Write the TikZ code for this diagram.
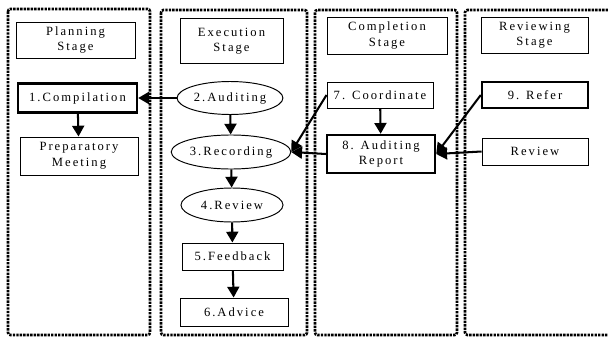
\documentclass[tikz,border=0pt]{standalone}
\usepackage{fontspec}
\setmainfont{Liberation Serif}[LetterSpace=16]
\usetikzlibrary{arrows.meta,shapes.geometric}

\begin{document}
\begin{tikzpicture}[x=0.833pt,y=-0.833pt,
  lane/.style={line width=2.2pt,dash pattern=on 2pt off 0.9pt,rounded corners=2pt},
  wh/.style 2 args={minimum width=#1*0.833pt,minimum height=#2*0.833pt},
  plainbox/.style={draw,line width=0.8pt,align=center,inner sep=1pt,font=\fontsize{10.5}{13}\selectfont},
  stagebox/.style={plainbox},
  thickbox/.style={plainbox,line width=2pt},
  oval/.style={plainbox,ellipse},
  arr/.style={line width=1.7pt,-{Triangle[length=9pt,width=10pt]}}]
\useasboundingbox (0,0) rectangle (608,338);

% the four lanes
\draw[lane] (8,9) rectangle (150,335);
\draw[lane] (161,10) rectangle (307,335);
\draw[lane] (315,10) rectangle (457,335);
\draw[lane] (615,10) -- (465,10) -- (465,335) -- (615,335);

% planning
\node[stagebox,wh={119}{36}] (plan) at (75.5,40) {Planning\\Stage};
\node[thickbox,wh={119}{29}] (comp) at (77.5,98) {1.Compilation};
\node[plainbox,wh={118}{38}] (prep) at (79,156) {Preparatory\\Meeting};

% execution
\node[stagebox,wh={103}{45}] (exec) at (231.5,41) {Execution\\Stage};
\node[oval,wh={98}{33}] (aud) at (230,98) {2.Auditing};
\node[oval,wh={104}{34}] (rec) at (231,152) {3.Recording};
\node[oval,wh={102}{34}] (rev) at (232,205) {4.Review};
\node[plainbox,wh={101}{27}] (fb) at (232.5,256.5) {5.Feedback};
\node[plainbox,wh={108}{28}] (adv) at (234,312) {6.Advice};

% completion
\node[stagebox,wh={120}{37}] (compl) at (387,35.5) {Completion\\Stage};
\node[plainbox,wh={106}{26}] (coord) at (380,95) {7. Coordinate};
\node[thickbox,wh={108}{38}] (rpt) at (381,154) {8. Auditing\\Report};

% reviewing
\node[stagebox,wh={107}{36}] (revw) at (534.5,35) {Reviewing\\Stage};
\node[thickbox,wh={106}{26}] (refer) at (535,95) {9. Refer};
\node[plainbox,wh={106}{27}] (review) at (535,151.5) {Review};

% flow
\draw[arr] (comp) -- (prep);
\draw[arr] (aud) -- (comp);
\draw[arr] (aud) -- (rec);
\draw[arr] (rec) -- (rev);
\draw[arr] (rev) -- (fb);
\draw[arr] (fb) -- (adv);
\draw[arr] (coord) -- (rpt);
\draw[arr] (coord.west) -- (rec.east);
\draw[arr] (rpt.west) -- (rec.east);
\draw[arr] (refer.west) -- (rpt.east);
\draw[arr] (review.west) -- (rpt.east);
\end{tikzpicture}
\end{document}
